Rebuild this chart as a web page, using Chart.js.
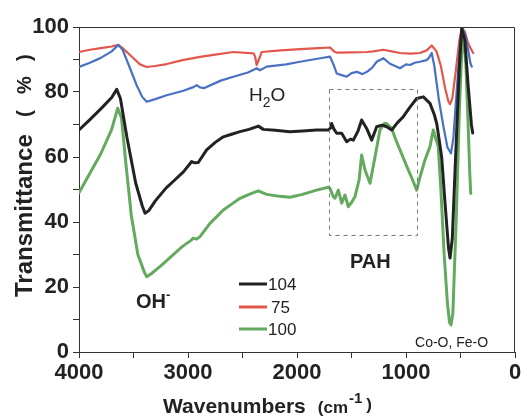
<!DOCTYPE html>
<html>
<head>
<meta charset="utf-8">
<script src="https://cdn.jsdelivr.net/npm/chart.js@4.4.1/dist/chart.umd.min.js"></script>
<style>
html,body{margin:0;padding:0;background:#fff;}
#wrap{width:522px;height:417px;}
</style>
</head>
<body>
<div id="wrap"><canvas id="c" width="522" height="417"></canvas></div>
<script>
// ---- data (wavenumber cm-1, transmittance %) ----
const wnBlack = [4000,3900,3800,3700,3654,3620,3560,3480,3420,3394,3360,3300,3200,3119,3040,2966,2940,2906,2829,2750,2676,2600,2523,2440,2355,2309,2200,2064,1950,1820,1713,1690,1682,1660,1636,1590,1544,1510,1483,1440,1407,1361,1315,1269,1220,1177,1131,1080,1025,960,902,841,780,740,718,690,673,640,610,596,575,545,510,489,460,430,400,388];
const tBlack  = [68.3,71.5,74.8,78.3,80.8,78,66,52,45,42.7,43.5,46.5,50.5,53,55.5,58.6,58.2,58.3,62.2,64.5,66.2,67,67.8,68.5,69.5,68.5,68.2,67.8,68,68.3,68.3,69,70.3,68.5,67.3,67.3,64.7,65.5,65.2,68,71.4,68.8,65.2,69.3,69.8,69.3,68.3,70.5,72.4,75.5,78,78.5,76.5,73,70.3,64,60,45,32,28.9,35,60,88,99.6,96,82,70,67.4];

const wnRed = [4000,3900,3800,3700,3639,3600,3520,3440,3379,3300,3196,3050,2890,2750,2584,2400,2385,2370,2350,2324,2150,1972,1800,1697,1660,1636,1500,1358,1300,1208,1130,1055,960,872,810,764,720,680,640,610,596,575,545,510,485,460,430,400,383];
const tRed  = [92.3,93,93.5,94,94.5,93.5,91,88.5,87.7,88,88.6,89.8,90.8,91.5,92.3,91.9,91,88.3,90,92.3,92.8,93.2,93.5,93.7,92.5,92.1,92.2,92.3,92.5,93,92.5,92,91.8,92,92.8,94.3,92.5,88,81,77,76.3,78,86,96,99.7,98.5,95,93,92];

const wnBlue = [4000,3900,3800,3700,3639,3600,3540,3470,3420,3379,3300,3196,3050,2950,2920,2890,2850,2700,2584,2450,2370,2340,2278,2100,1972,1800,1697,1660,1636,1590,1544,1500,1450,1400,1358,1310,1269,1208,1147,1100,1055,1000,963,920,872,811,790,764,740,700,660,620,587,565,540,510,485,460,430,410,397];
const tBlue  = [87.7,89,90.5,92.5,94.5,93,88,82,78.5,77,77.8,79,80.3,81.5,82.1,81.4,81.2,83.5,84.7,86,87.3,86.7,87.8,88.5,89.3,90.3,90.9,88,85.7,85.2,84.7,85.8,86.2,85.5,86.2,87.5,89.3,90.4,88.7,88,87.3,88.5,88.3,89,89.3,89.8,90.5,92,88,78,70,63,61.1,66,78,92,99.7,98,93,89,87.8];

const wnGreen = [4000,3900,3800,3700,3645,3610,3570,3520,3460,3400,3379,3340,3250,3150,3050,2966,2954,2920,2890,2800,2676,2600,2523,2440,2355,2279,2180,2064,1950,1820,1713,1697,1667,1651,1621,1590,1560,1529,1500,1468,1430,1407,1376,1330,1284,1239,1200,1177,1131,1090,1055,979,940,902,870,826,780,750,730,704,680,650,620,600,587,570,540,510,485,470,450,430,415,406];
const tGreen  = [49,55,61,68.5,75,72,58,42,30,24.5,23.2,24,26.5,29.5,32.5,34.5,35,34.8,35.5,39.5,43.7,45.5,47.3,48.5,49.6,48.5,48,47.6,48.5,49.8,50.7,50.3,47.8,47.3,49.8,45.8,48.3,44.7,46,47.8,53,60.6,56,51.9,60.1,68.3,70.3,70.3,68.8,65,62.2,56,53,49.8,54,59.1,63.2,68.3,66,63.2,50,30,15,9,8.3,12,40,75,95,97,88,70,55,48.8];

const seriesLabels = ['104', '75', '100'];
const xTickValues = [4000, 3000, 2000, 1000, 0];
const yTickValues = [0, 20, 40, 60, 80, 100];

const zip = (xs, ys) => xs.map((x, i) => ({x: x, y: ys[i]}));

const FONT = "'Liberation Sans', Arial, Helvetica, sans-serif";
const C_BLACK = '#222222', C_RED = '#e2574c', C_BLUE = '#4a70c6', C_GREEN = '#64aa5e';

const decor = {
  id: 'decor',
  afterDatasetsDraw(chart) {
    const {ctx, chartArea: a, scales: {x, y}} = chart;
    ctx.save();
    // top & right frame
    ctx.strokeStyle = '#333';
    ctx.lineWidth = 1;
    ctx.beginPath();
    ctx.moveTo(a.left, a.top + 0.5); ctx.lineTo(a.right - 0.5, a.top + 0.5); ctx.lineTo(a.right - 0.5, a.bottom);
    ctx.stroke();
    // dashed PAH box
    ctx.strokeStyle = '#777';
    ctx.setLineDash([4, 4]);
    const bx0 = x.getPixelForValue(1704), bx1 = x.getPixelForValue(893);
    const by0 = y.getPixelForValue(81), by1 = y.getPixelForValue(36);
    ctx.strokeRect(Math.round(bx0) + 0.5, Math.round(by0) + 0.5, Math.round(bx1 - bx0), Math.round(by1 - by0));
    ctx.setLineDash([]);

    // annotations
    ctx.fillStyle = '#222';
    ctx.textBaseline = 'alphabetic';
    ctx.textAlign = 'left';
    // H2O
    let px = x.getPixelForValue(2440), py = y.getPixelForValue(77.2);
    ctx.font = '19px ' + FONT;
    ctx.fillText('H', px, py);
    let w = ctx.measureText('H').width;
    ctx.font = '14px ' + FONT;
    ctx.fillText('2', px + w, py + 6);
    let w2 = ctx.measureText('2').width;
    ctx.font = '19px ' + FONT;
    ctx.fillText('O', px + w + w2, py);
    // PAH
    px = x.getPixelForValue(1514); py = y.getPixelForValue(25.8);
    ctx.font = 'bold 20px ' + FONT;
    ctx.fillText('PAH', px, py);
    // OH-
    px = x.getPixelForValue(3477); py = y.getPixelForValue(13.5);
    ctx.font = 'bold 20px ' + FONT;
    ctx.fillText('OH', px, py);
    w = ctx.measureText('OH').width;
    ctx.font = 'bold 13px ' + FONT;
    ctx.fillText('-', px + w, py - 9);
    // Co-O, Fe-O
    px = x.getPixelForValue(917); py = y.getPixelForValue(1.5);
    ctx.font = '14px ' + FONT;
    ctx.fillText('Co-O, Fe-O', px, py);

    // legend
    const legendColors = [C_BLACK, C_RED, C_GREEN];
    const lx0 = 239, lx1 = 267, ly = [284, 307, 329];
    ctx.font = '17px ' + FONT;
    ctx.textBaseline = 'middle';
    for (let i = 0; i < 3; i++) {
      ctx.strokeStyle = legendColors[i];
      ctx.lineWidth = 3;
      ctx.beginPath(); ctx.moveTo(lx0, ly[i]); ctx.lineTo(lx1, ly[i]); ctx.stroke();
      ctx.fillStyle = '#222';
      ctx.fillText(seriesLabels[i], lx1 + (seriesLabels[i].length === 2 ? 4 : 1), ly[i] + 1);
    }

    // axis titles
    ctx.fillStyle = '#222';
    ctx.textBaseline = 'alphabetic';
    ctx.font = 'bold 21px ' + FONT;
    let tx = 163, ty = 413;
    ctx.fillText('Wavenumbers', tx, ty);
    tx += ctx.measureText('Wavenumbers').width + 12;
    ctx.font = 'bold 17px ' + FONT;
    ctx.fillText('(cm', tx, ty);
    tx += ctx.measureText('(cm').width + 1;
    ctx.font = 'bold 15px ' + FONT;
    ctx.fillText('-1', tx, ty - 10);
    tx += ctx.measureText('-1').width + 4;
    ctx.font = 'bold 17px ' + FONT;
    ctx.fillText(')', tx, ty - 3);

    ctx.translate(32, 297);
    ctx.rotate(-Math.PI / 2);
    ctx.textAlign = 'left';
    ctx.font = 'bold 24px ' + FONT;
    ctx.fillText('Transmittance', 0, 0);
    ctx.font = 'bold 20px ' + FONT;
    ctx.fillText('(', 180, -1);
    ctx.fillText('%', 203, -1);
    ctx.fillText(')', 236, -1);
    ctx.restore();
  }
};

new Chart(document.getElementById('c'), {
  type: 'line',
  data: {
    datasets: [
      {label: seriesLabels[0], data: zip(wnBlack, tBlack), borderColor: C_BLACK, borderWidth: 3},
      {label: '', data: zip(wnBlue, tBlue), borderColor: C_BLUE, borderWidth: 2.2},
      {label: seriesLabels[1], data: zip(wnRed, tRed), borderColor: C_RED, borderWidth: 2.2},
      {label: seriesLabels[2], data: zip(wnGreen, tGreen), borderColor: C_GREEN, borderWidth: 3}
    ]
  },
  options: {
    responsive: false,
    animation: false,
    layout: {padding: {left: 0, top: 27, right: 7, bottom: 0}},
    elements: {
      point: {radius: 0},
      line: {tension: 0, borderJoinStyle: 'round', borderCapStyle: 'round', fill: false}
    },
    plugins: {legend: {display: false}, tooltip: {enabled: false}, title: {display: false}},
    scales: {
      x: {
        type: 'linear', reverse: true, min: 0, max: 4000,
        afterFit(s) { s.height = 65; },
        afterBuildTicks(s) { s.ticks = []; for (let v = 0; v <= 4000; v += 500) s.ticks.push({value: v}); },
        ticks: {
          autoSkip: false, maxRotation: 0, padding: 2, color: '#222',
          font: {family: FONT, size: 22, weight: 'bold'},
          callback: v => xTickValues.includes(v) ? String(v) : ''
        },
        grid: {drawOnChartArea: false, drawTicks: true, tickLength: 6, color: '#333'},
        border: {display: true, color: '#333', width: 1}
      },
      y: {
        type: 'linear', min: 0, max: 100,
        afterFit(s) { s.width = 79; },
        afterBuildTicks(s) { s.ticks = []; for (let v = 0; v <= 100; v += 10) s.ticks.push({value: v}); },
        ticks: {
          autoSkip: false, padding: 4, color: '#222',
          font: {family: FONT, size: 22, weight: 'bold'},
          callback: v => yTickValues.includes(v) ? String(v) : ''
        },
        grid: {drawOnChartArea: false, drawTicks: true, tickLength: 6, color: '#333'},
        border: {display: true, color: '#333', width: 1}
      }
    }
  },
  plugins: [decor]
});
</script>
</body>
</html>
